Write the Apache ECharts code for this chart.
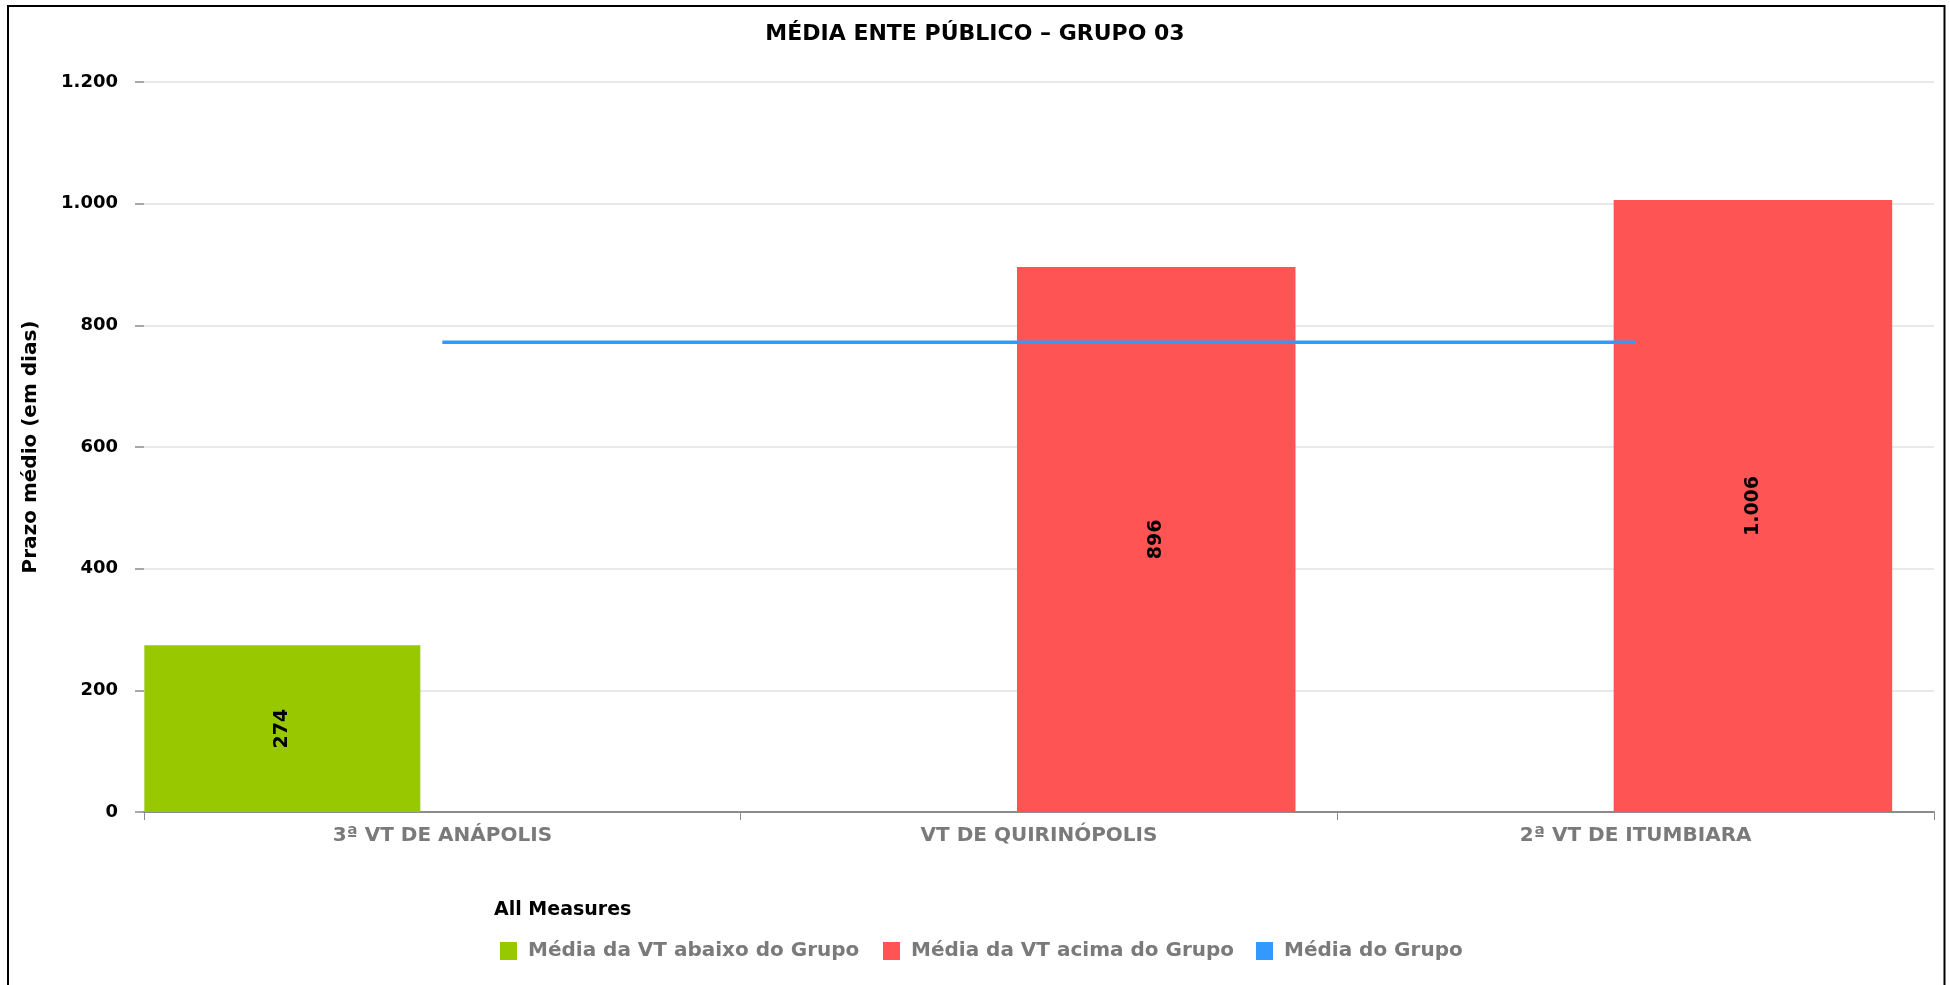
<!DOCTYPE html>
<html>
<head>
<meta charset="utf-8">
<script src="https://cdn.jsdelivr.net/npm/echarts@6/dist/echarts.min.js"></script>
<style>
html,body{margin:0;padding:0;background:#fff;}
#chart{width:1950px;height:985px;}
</style>
</head>
<body>
<div id="chart"></div>
<script>
// ---- data ----
const categories = ['3ª VT DE ANÁPOLIS', 'VT DE QUIRINÓPOLIS', '2ª VT DE ITUMBIARA'];
const abaixoValues = [274, null, null];
const acimaValues = [null, 896, 1006];
const mediaGrupoValues = [772, 772, 772];
const yTicks = [0, 200, 400, 600, 800, 1000, 1200];
const seriesNames = ['Média da VT abaixo do Grupo', 'Média da VT acima do Grupo', 'Média do Grupo'];

function fmt(v) {
  return String(v).replace(/\B(?=(\d{3})+(?!\d))/g, '.');
}

const FONT = 'DejaVu Sans';
const chart = echarts.init(document.getElementById('chart'), null, {renderer: 'canvas'});

const legendBase = {
  orient: 'horizontal',
  top: 936,
  icon: 'rect',
  itemWidth: 17,
  itemHeight: 18,
  itemGap: 0,
  selectedMode: false,
  textStyle: {fontFamily: FONT, fontSize: 20, fontWeight: 'bold', color: '#7a7a7a', padding: [0, 0, 0, 6]}
};

chart.setOption({
  animation: false,
  backgroundColor: '#fff',
  textStyle: {fontFamily: FONT},
  title: [
    {
      text: 'MÉDIA ENTE PÚBLICO – GRUPO 03',
      left: 'center',
      top: 18,
      textStyle: {fontFamily: FONT, fontSize: 22, fontWeight: 'bold', color: '#000'}
    },
    {
      text: 'All Measures',
      left: 489,
      top: 896,
      textStyle: {fontFamily: FONT, fontSize: 19, fontWeight: 'bold', color: '#000'}
    }
  ],
  legend: [
    Object.assign({}, legendBase, {left: 495, data: [seriesNames[0]]}),
    Object.assign({}, legendBase, {left: 878, data: [seriesNames[1]]}),
    Object.assign({}, legendBase, {left: 1251, data: [seriesNames[2]]})
  ],
  grid: {left: 144, right: 16, top: 82, bottom: 173, containLabel: false, outerBoundsMode: 'none'},
  xAxis: {
    type: 'category',
    data: categories,
    boundaryGap: true,
    axisLine: {show: true, lineStyle: {color: '#8c8c8c', width: 2}},
    axisTick: {show: true, interval: 0, length: 8, lineStyle: {color: '#8c8c8c', width: 1}},
    axisLabel: {interval: 0, margin: 14, fontFamily: FONT, fontSize: 20, fontWeight: 'bold', color: '#7a7a7a'},
    splitLine: {show: false}
  },
  yAxis: {
    type: 'value',
    min: yTicks[0],
    max: yTicks[yTicks.length - 1],
    interval: yTicks[1] - yTicks[0],
    name: 'Prazo médio (em dias)',
    nameLocation: 'middle',
    nameGap: 103,
    nameTextStyle: {fontFamily: FONT, fontSize: 20, fontWeight: 'bold', color: '#000'},
    axisLine: {show: false},
    axisTick: {show: true, length: 9, lineStyle: {color: '#8c8c8c', width: 1.5}},
    axisLabel: {margin: 26, fontFamily: FONT, fontSize: 18, fontWeight: 'bold', color: '#000', formatter: fmt},
    splitLine: {show: true, lineStyle: {color: '#e9e9e9', width: 2}}
  },
  series: [
    {
      name: seriesNames[0],
      type: 'bar',
      data: abaixoValues,
      barWidth: 276,
      barGap: '0%',
      itemStyle: {color: '#97c800'},
      label: {show: true, position: 'inside', rotate: 90, color: '#000', fontFamily: FONT, fontSize: 19, fontWeight: 'bold', formatter: p => fmt(p.value)}
    },
    {
      name: seriesNames[1],
      type: 'bar',
      data: acimaValues,
      barWidth: 278.5,
      barGap: '0%',
      itemStyle: {color: '#ff5454'},
      label: {show: true, position: 'inside', rotate: 90, color: '#000', fontFamily: FONT, fontSize: 19, fontWeight: 'bold', formatter: p => fmt(p.value)}
    },
    {
      name: 'spacer',
      type: 'bar',
      data: [null, null, null],
      barWidth: 41.5,
      barGap: '0%',
      silent: true,
      itemStyle: {color: 'rgba(0,0,0,0)'}
    },
    {
      name: seriesNames[2],
      type: 'line',
      data: mediaGrupoValues,
      symbol: 'none',
      z: 10,
      lineStyle: {color: '#3399ff', width: 3.5},
      itemStyle: {color: '#3399ff'}
    }
  ],
  graphic: [
    {
      type: 'rect',
      silent: true,
      shape: {x: 8, y: 6, width: 1936.5, height: 1000},
      style: {fill: 'none', stroke: '#000', lineWidth: 2}
    }
  ]
});
</script>
</body>
</html>
